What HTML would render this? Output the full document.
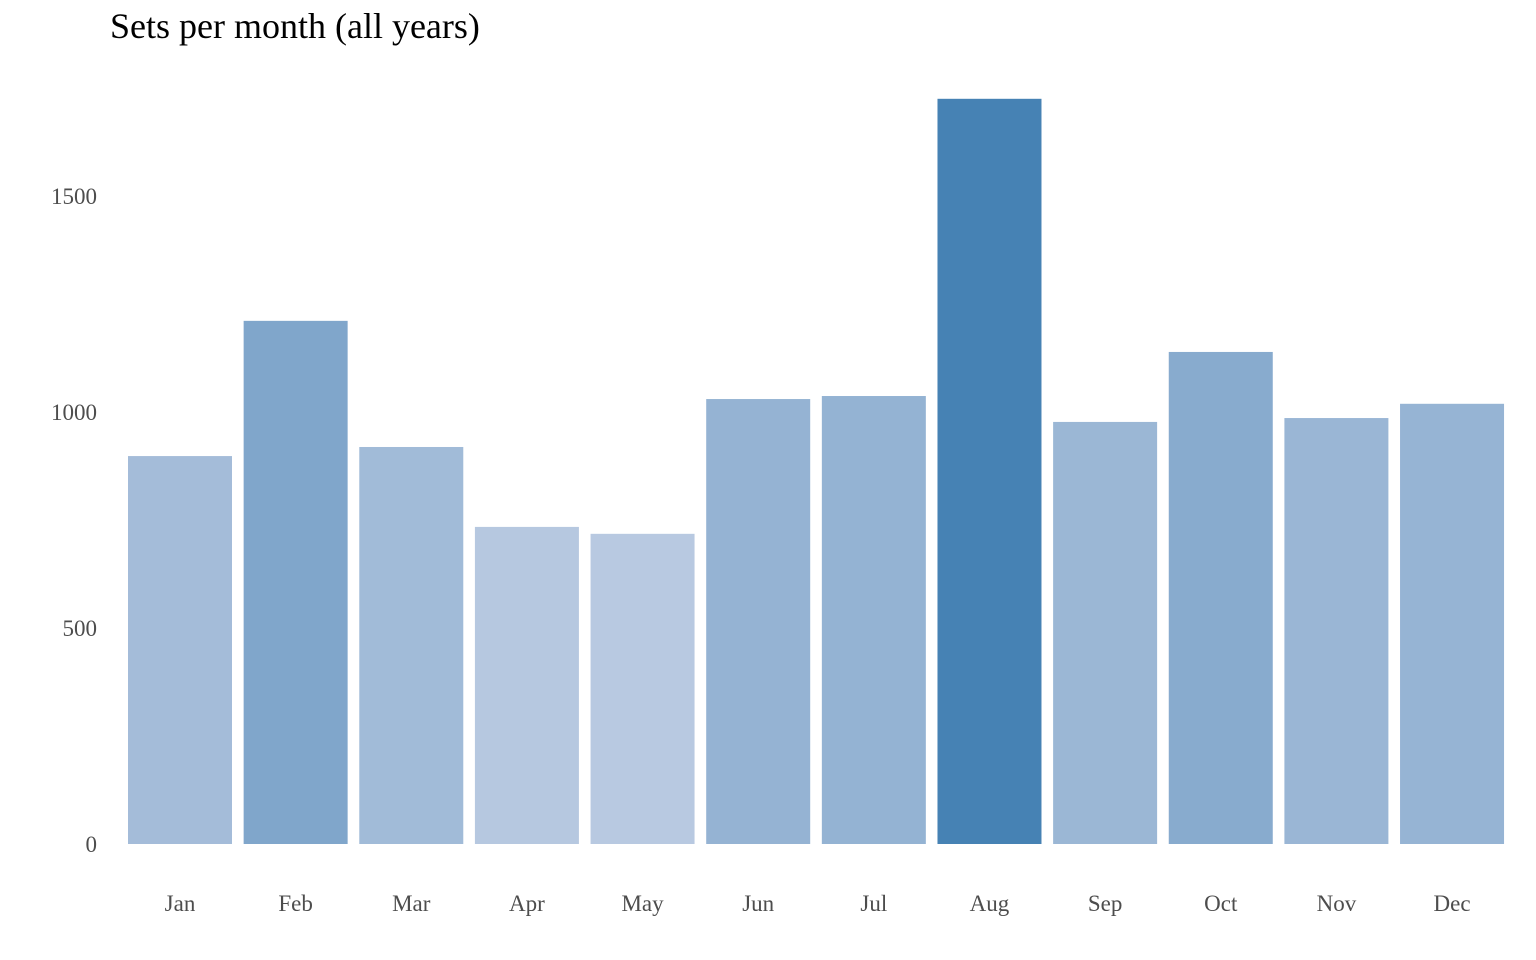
<!DOCTYPE html>
<html><head><meta charset="utf-8">
<style>
html,body{margin:0;padding:0;background:#fff;}
svg{display:block;font-family:"Liberation Serif",serif;}
</style></head>
<body>
<svg id="chart" width="1536" height="960" viewBox="0 0 1536 960">
<text x="110" y="38" font-size="36" fill="#000">Sets per month (all years)</text>
<g id="yaxis"></g>
<g id="bars"></g>
<g id="xaxis"></g>
</svg>
<script>
const months = ["Jan","Feb","Mar","Apr","May","Jun","Jul","Aug","Sep","Oct","Nov","Dec"];
const sets = [898,1211,919,734,718,1030,1037,1725,977,1139,986,1019];
const yTicks = [0,500,1000,1500];

const NS="http://www.w3.org/2000/svg";
const y0=844, pxPerUnit=0.432;
const yScale=v=>y0-v*pxPerUnit;
const xStart=180, step=115.64, bw=104;
const xScale=i=>xStart+i*step;
const lo=[184,201,225], hi=[70,130,180];
const mn=Math.min(...sets), mx=Math.max(...sets);
function color(v){const t=(v-mn)/(mx-mn);return "rgb("+lo.map((c,k)=>Math.round(c+(hi[k]-c)*t)).join(",")+")";}

const ya=document.getElementById("yaxis");
yTicks.forEach(t=>{
  const tx=document.createElementNS(NS,"text");
  
  
  tx.setAttribute("x",97);tx.setAttribute("y",yScale(t)+8);
  tx.setAttribute("text-anchor","end");tx.setAttribute("font-size","23");tx.setAttribute("fill","#4d4d4d");
  tx.textContent=t;ya.appendChild(tx);
});
const bg=document.getElementById("bars"), xa=document.getElementById("xaxis");
sets.forEach((v,i)=>{
  const r=document.createElementNS(NS,"rect");
  
  
  r.setAttribute("x",xScale(i)-bw/2);r.setAttribute("width",bw);
  r.setAttribute("y",yScale(v));r.setAttribute("height",y0-yScale(v));
  r.setAttribute("fill",color(v));bg.appendChild(r);
  const tx=document.createElementNS(NS,"text");
  
  
  tx.setAttribute("x",xScale(i));tx.setAttribute("y",911);
  tx.setAttribute("text-anchor","middle");tx.setAttribute("font-size","23");tx.setAttribute("fill","#4d4d4d");
  tx.textContent=months[i];xa.appendChild(tx);
});
</script>
</body></html>
